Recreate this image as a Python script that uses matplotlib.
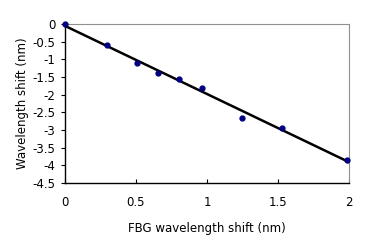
import numpy as np
import matplotlib
matplotlib.use('Agg')
import matplotlib.pyplot as plt

# FBG wavelength shift vs measured wavelength shift (nm)
fbg_shift = [0.0, 0.296, 0.507, 0.655, 0.80, 0.965, 1.246, 1.528, 1.986]
wl_shift = [0.0, -0.59, -1.10, -1.39, -1.55, -1.80, -2.65, -2.94, -3.84]

xticks = [0, 0.5, 1, 1.5, 2]
yticks = [0, -0.5, -1, -1.5, -2, -2.5, -3, -3.5, -4, -4.5]

fig = plt.figure(figsize=(3.71, 2.48), dpi=100)
ax = fig.add_axes([0.175, 0.262, 0.766, 0.641])

# linear trend line
k, b = np.polyfit(fbg_shift, wl_shift, 1)
xl = np.array([0, 2])
ax.plot(xl, k * xl + b, color='black', lw=1.8)
ax.plot(fbg_shift, wl_shift, 'o', color='#000080', ms=3.5, clip_on=False, zorder=3)

ax.set_xlim(0, 2)
ax.set_ylim(-4.5, 0)
ax.set_xticks(xticks)
ax.set_xticklabels(['0', '0.5', '1', '1.5', '2'])
ax.set_yticks(yticks)
ax.set_yticklabels(['0', '-0.5', '-1', '-1.5', '-2', '-2.5', '-3', '-3.5', '-4', '-4.5'])
ax.tick_params(axis='x', direction='in', length=3, labelsize=8.5, pad=9)
ax.tick_params(axis='y', direction='out', length=3, labelsize=8.5, pad=4)

ax.spines['top'].set_color('#909090')
ax.spines['right'].set_color('#909090')
ax.spines['left'].set_linewidth(1.0)
ax.spines['bottom'].set_linewidth(1.0)

ax.set_xlabel('FBG wavelength shift (nm)', fontsize=8.5, labelpad=10)
ax.set_ylabel('Wavelength shift (nm)', fontsize=8.5, labelpad=2)

fig.savefig('out.png', dpi=100)
